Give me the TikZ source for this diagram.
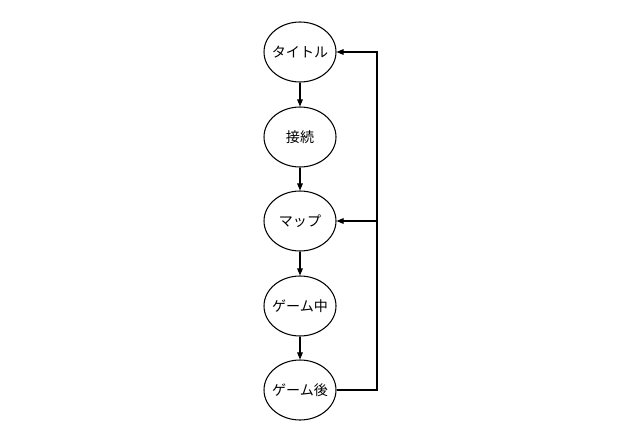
\documentclass[tikz,border=0pt]{standalone}
\usepackage{fontspec}
\newfontfamily\cjk{Noto Sans CJK JP}
\usetikzlibrary{arrows.meta, positioning, shapes.geometric}

\begin{document}
\begin{tikzpicture}[
    x=0.5mm, y=-0.5mm,
    every node/.style={draw, ellipse, line width=1.5pt, minimum width=36mm, minimum height=30mm, inner xsep=-9pt, inner ysep=0pt, font=\cjk\fontsize{20}{24}\selectfont},
    line width=1.5pt,
    -{Triangle[length=10pt, width=8pt]}
  ]
  \useasboundingbox (0,0) rectangle (640,440);

  % Nodos
  \node (title) at (300,52) {タイトル};
  \node (connect) at (300,137) {接続};
  \node (map) at (300,221) {マップ};
  \node (ingame) at (300,306) {ゲーム中};
  \node (aftergame) at (300,390) {ゲーム後};

  \coordinate (top) at (377,52);
  \coordinate (mid) at (377,221);
  \coordinate (bottom) at (377,390);

  \draw (title) -- (connect);
  \draw (connect) -- (map);
  \draw (map) -- (ingame);
  \draw (ingame) -- (aftergame);

  \draw (aftergame.east) -- (bottom) -- (top) -- (title.east);
  \draw (mid) -- (map.east);

\end{tikzpicture}
\end{document}
